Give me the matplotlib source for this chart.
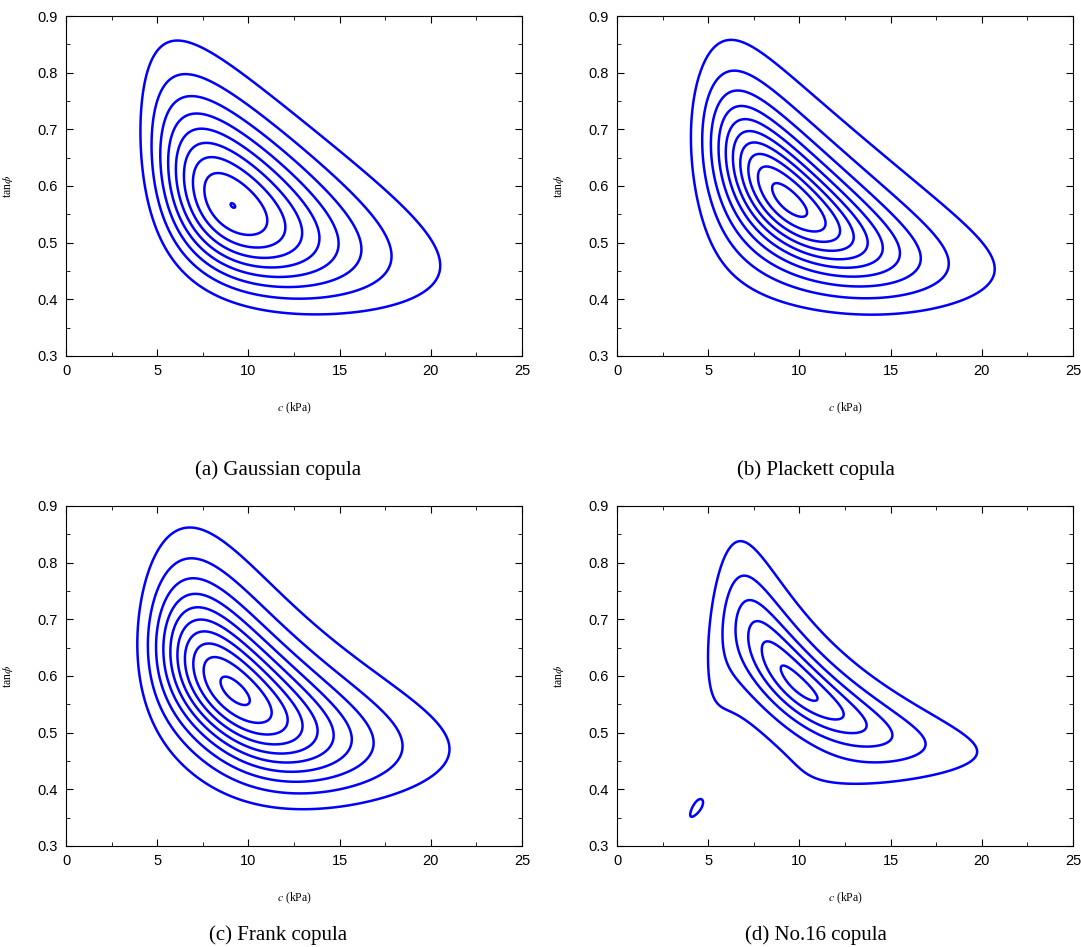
import math
import numpy as np
import matplotlib
matplotlib.use('Agg')
import matplotlib.pyplot as plt
from matplotlib.ticker import MultipleLocator

# 边缘分布参数 (对数正态)
c_mean, c_cov = 11.0, 0.4
t_mean, t_cov = 0.5774, 0.2
rho = -0.5
theta_plackett = 0.2
theta_frank = -3.2
theta_no16 = 0.03

panel_titles = ['(a) Gaussian copula', '(b) Plackett copula',
                '(c) Frank copula', '(d) No.16 copula']

# 等值线水平
gauss_levels = [0.0489, 0.0978, 0.1467, 0.1956, 0.2445, 0.2934, 0.3423, 0.3912, 0.4401]
plackett_levels = [0.0481, 0.0962, 0.1443, 0.1924, 0.2405, 0.2886, 0.3367, 0.3848, 0.4329, 0.4810]
frank_levels = [0.0443, 0.0886, 0.1329, 0.1772, 0.2215, 0.2658, 0.3101, 0.3544, 0.3987, 0.4430]
no16_levels = [0.0974, 0.1948, 0.2922, 0.3896, 0.4870, 0.5844]

plt.rcParams['font.family'] = ['Liberation Sans', 'DejaVu Sans']
plt.rcParams['mathtext.fontset'] = 'stix'

cc = np.linspace(0.05, 25, 500)
tt = np.linspace(0.3, 0.9, 500)
C, T = np.meshgrid(cc, tt)


def ln_params(m, cov):
    s = math.sqrt(math.log(1 + cov ** 2))
    return math.log(m) - s ** 2 / 2, s


mu1, s1 = ln_params(c_mean, c_cov)
mu2, s2 = ln_params(t_mean, t_cov)
z1 = (np.log(C) - mu1) / s1
z2 = (np.log(T) - mu2) / s2
f1 = np.exp(-z1 ** 2 / 2) / (C * s1 * math.sqrt(2 * math.pi))
f2 = np.exp(-z2 ** 2 / 2) / (T * s2 * math.sqrt(2 * math.pi))
erf = np.vectorize(math.erf)
u = np.clip(0.5 * (1 + erf(z1 / math.sqrt(2))), 1e-12, 1 - 1e-12)
v = np.clip(0.5 * (1 + erf(z2 / math.sqrt(2))), 1e-12, 1 - 1e-12)

# copula 密度
gauss = np.exp(-(rho ** 2 * (z1 ** 2 + z2 ** 2) - 2 * rho * z1 * z2)
               / (2 * (1 - rho ** 2))) / math.sqrt(1 - rho ** 2)
th = theta_plackett
plackett = th * (1 + (th - 1) * (u + v - 2 * u * v)) / \
    ((1 + (th - 1) * (u + v)) ** 2 - 4 * th * (th - 1) * u * v) ** 1.5
th = theta_frank
frank = -th * (math.exp(-th) - 1) * np.exp(-th * (u + v)) / \
    ((math.exp(-th) - 1) + (np.exp(-th * u) - 1) * (np.exp(-th * v) - 1)) ** 2
th = theta_no16
S = u + v - 1 - th * (1 / u + 1 / v - 1)
R = np.sqrt(S ** 2 + 4 * th)
no16 = (1 + th / u ** 2) * (1 + th / v ** 2) * 2 * th / R ** 3

# 联合概率密度
dens = [gauss * f1 * f2, plackett * f1 * f2, frank * f1 * f2, no16 * f1 * f2]
levels = [gauss_levels, plackett_levels, frank_levels, no16_levels]

fig = plt.figure(figsize=(10.81, 9.47), dpi=100)
lefts = [0.0611, 0.5708, 0.0611, 0.5708]
bottoms = [0.6241, 0.6241, 0.1067, 0.1067]
cap_x = [0.257, 0.755, 0.257, 0.755]
cap_y = [0.5037, 0.5037, 0.0127, 0.0127]

for i in range(4):
    ax = fig.add_axes([lefts[i], bottoms[i], 0.4218, 0.359])
    ax.contour(C, T, dens[i], levels=levels[i], colors=[(0, 0, 1)], linewidths=1.8)
    ax.set_xlim(0, 25)
    ax.set_ylim(0.3, 0.9)
    ax.xaxis.set_major_locator(MultipleLocator(5))
    ax.xaxis.set_minor_locator(MultipleLocator(2.5))
    ax.yaxis.set_major_locator(MultipleLocator(0.1))
    ax.yaxis.set_minor_locator(MultipleLocator(0.05))
    ax.tick_params(which='both', direction='in', top=True, right=True, labelsize=10.5)
    ax.tick_params(which='major', length=5, pad=6)
    ax.tick_params(which='minor', length=3)
    ax.set_xlabel('$c$ (kPa)', family='Liberation Serif', fontsize=8.5)
    ax.xaxis.set_label_coords(0.5, -0.13)
    ax.set_ylabel(r'tan$\phi$', family='Liberation Serif', fontsize=8.5)
    ax.yaxis.set_label_coords(-0.112, 0.5)
    fig.text(cap_x[i], cap_y[i], panel_titles[i], family='Liberation Serif',
             fontsize=15, ha='center', va='center')

plt.savefig('out.png', dpi=100)
